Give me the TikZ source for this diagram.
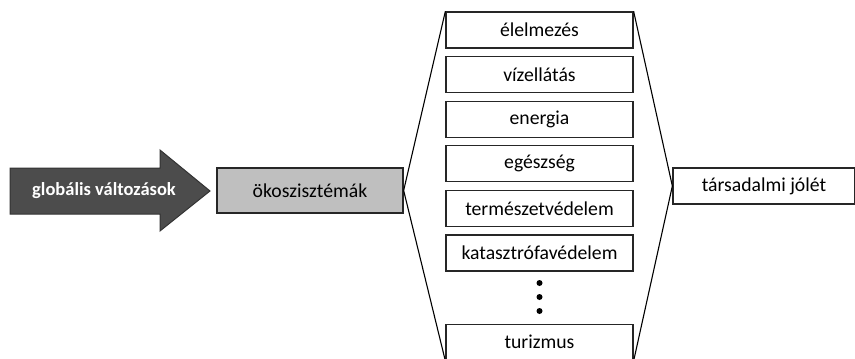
\documentclass[tikz,border=0pt]{standalone}
\usepackage{fontspec}
\setmainfont{Carlito}
\begin{document}
\begin{tikzpicture}[x=1pt,y=-1pt,
  lbl/.style={font=\fontsize{19.7}{23}\selectfont},
  itembox/.style={lbl,draw=black!85,line width=1.3pt,minimum width=187pt,minimum height=36pt,inner sep=0pt,fill=white},
  fanline/.style={draw=black,line width=1.1pt},
  dotmark/.style={circle,fill=black,inner sep=0pt,minimum size=6pt}]
\useasboundingbox (0,0) rectangle (855,359);
% arrow
\draw[fill=black!70,draw=black!80,line width=1pt] (10,168) -- (160,168) -- (160,150) -- (210,191) -- (160,231) -- (160,214) -- (10,214) -- cycle;
\node[text=white,font=\fontsize{18.5}{22}\selectfont\bfseries] (glob) at (104,191) {globális változások};
\node[itembox,fill=black!25,minimum width=186pt,minimum height=45pt] (eco) at (310,190.5) {ökoszisztémák};
\node[itembox] (b1) at (539.5,30) {élelmezés};
\node[itembox] (b2) at (539.5,74.6) {vízellátás};
\node[itembox] (b3) at (539.5,119.2) {energia};
\node[itembox] (b4) at (539.5,163.8) {egészség};
\node[itembox] (b5) at (539.5,208.4) {természetvédelem};
\node[itembox] (b6) at (539.5,253) {katasztrófavédelem};
\node[dotmark] (d1) at (539.5,283) {};
\node[dotmark] (d2) at (539.5,297) {};
\node[dotmark] (d3) at (539.5,311) {};
\node[itembox] (b8) at (539.5,342.2) {turizmus};
\node[itembox,minimum width=182pt] (tj) at (764,186) {társadalmi jólét};
\draw[fanline] (eco.east) -- (b1.north west);
\draw[fanline] (eco.east) -- (b8.south west);
\draw[fanline] (tj.west) -- (b1.north east);
\draw[fanline] (tj.west) -- (b8.south east);
\end{tikzpicture}
\end{document}
